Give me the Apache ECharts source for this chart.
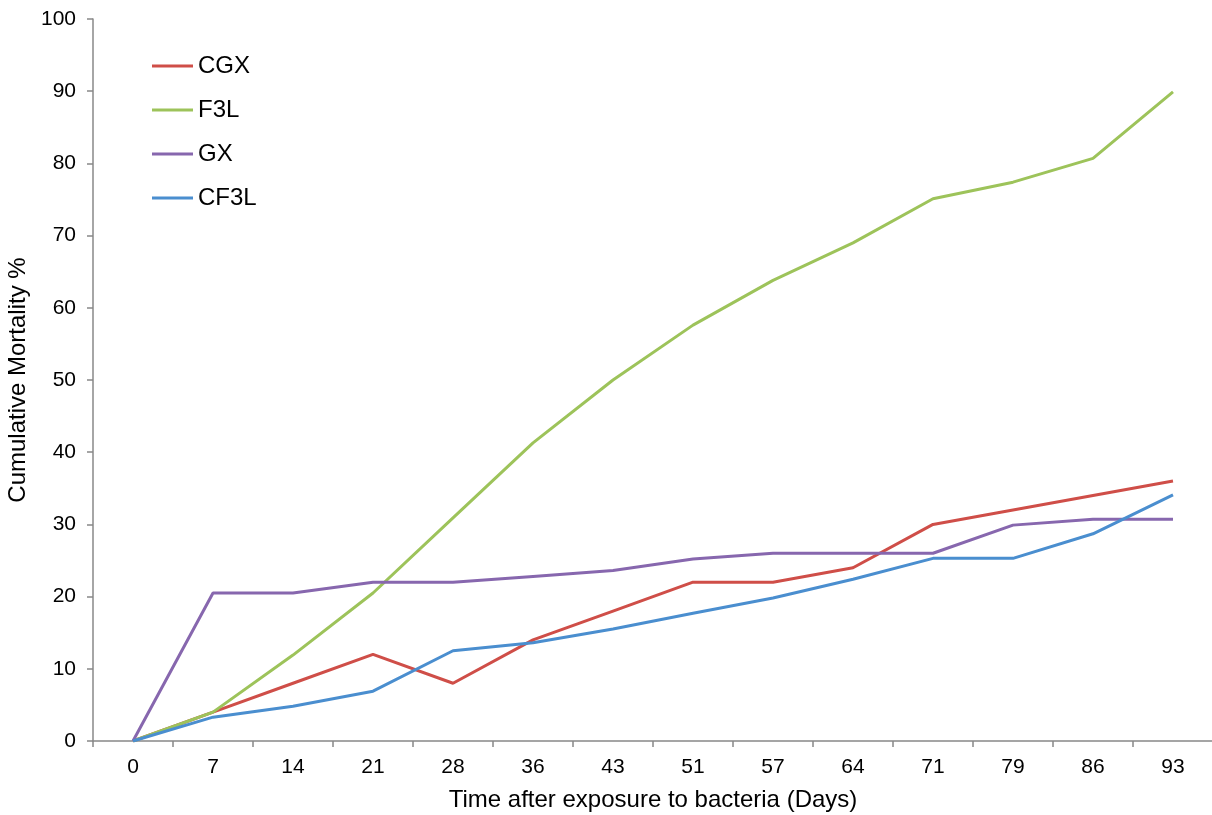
<!DOCTYPE html>
<html>
<head>
<meta charset="utf-8">
<script src="https://cdn.jsdelivr.net/npm/echarts@6/dist/echarts.min.js"></script>
<style>html,body{margin:0;padding:0;background:#fff}#c{width:1212px;height:815px}</style>
</head>
<body>
<div id="c"></div>
<script>
var categories = ['0','7','14','21','28','36','43','51','57','64','71','79','86','93'];
var cgx  = [0, 4, 8, 12, 8, 14, 18, 22, 22, 24, 30, 32, 34, 36];
var f3l  = [0, 4, 11.9, 20.5, 30.9, 41.3, 50, 57.6, 63.8, 69, 75.1, 77.4, 80.7, 89.9];
var gx   = [0, 20.5, 20.5, 22, 22, 22.8, 23.6, 25.2, 26, 26, 26, 29.9, 30.7, 30.7];
var cf3l = [0, 3.3, 4.8, 6.9, 12.5, 13.6, 15.5, 17.7, 19.8, 22.4, 25.3, 25.3, 28.7, 34.1];
var yTicks = [0,10,20,30,40,50,60,70,80,90,100];

var font = 'Liberation Sans, Arial, sans-serif';
var axisColor = '#888888';
function mk(name, data, color) {
  return {name: name, type: 'line', data: data, symbol: 'none', smooth: false,
    lineStyle: {color: color, width: 3}, itemStyle: {color: color}};
}
var chart = echarts.init(document.getElementById('c'));
chart.setOption({
  animation: false,
  backgroundColor: '#fff',
  grid: {left: 93, right: -1, top: 19, bottom: 74, containLabel: false, outerBoundsMode: 'none'},
  legend: {
    orient: 'vertical', left: 152, top: 54, padding: 0, icon: 'rect', itemWidth: 41, itemHeight: 3,
    itemGap: 20,
    textStyle: {fontFamily: font, fontSize: 24, color: '#000', lineHeight: 24},
    data: ['CGX','F3L','GX','CF3L']
  },
  xAxis: {
    type: 'category', data: categories, boundaryGap: true,
    name: 'Time after exposure to bacteria (Days)', nameLocation: 'middle', nameGap: 47,
    nameTextStyle: {fontFamily: font, fontSize: 24, color: '#000'},
    axisLine: {lineStyle: {color: axisColor, width: 1.5}},
    axisTick: {show: true, length: 6, lineStyle: {color: axisColor, width: 1.5}},
    axisLabel: {fontFamily: font, fontSize: 21, color: '#000', margin: 16},
    splitLine: {show: false}
  },
  yAxis: {
    type: 'value', min: 0, max: 100, interval: 10,
    name: 'Cumulative Mortality %', nameLocation: 'middle', nameGap: 55,
    nameTextStyle: {fontFamily: font, fontSize: 24, color: '#000'},
    axisLine: {show: true, lineStyle: {color: axisColor, width: 1.5}},
    axisTick: {show: true, length: 6, lineStyle: {color: axisColor, width: 1.5}},
    axisLabel: {fontFamily: font, fontSize: 21, color: '#000', margin: 17,
      formatter: function(v){ return yTicks.indexOf(v) >= 0 ? String(v) : ''; }},
    splitLine: {show: false}
  },
  series: [
    mk('CGX', cgx, '#CF4E48'),
    mk('F3L', f3l, '#9DC35A'),
    mk('GX', gx, '#8767AE'),
    mk('CF3L', cf3l, '#4A8ECF')
  ]
});
</script>
</body>
</html>
